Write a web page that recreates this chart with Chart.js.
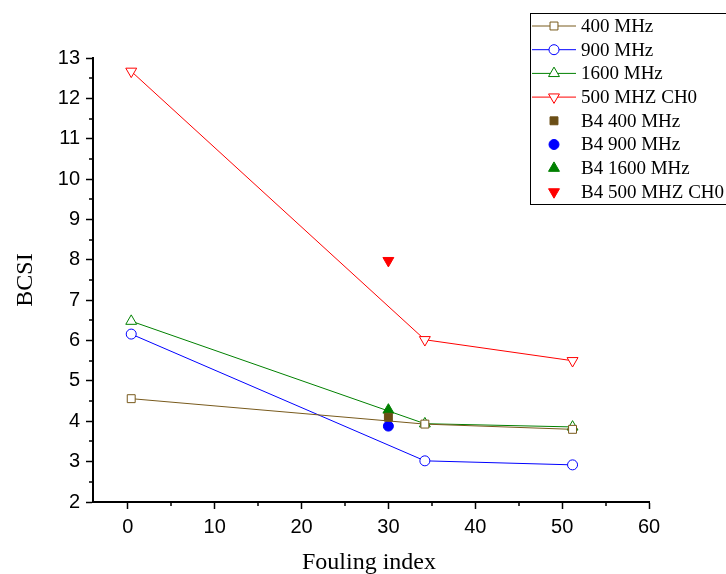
<!DOCTYPE html>
<html>
<head>
<meta charset="utf-8">
<script src="https://cdn.jsdelivr.net/npm/chart.js@4"></script>
<style>
  html, body { margin: 0; padding: 0; background: #fff; }
  canvas { display: block; }
</style>
</head>
<body>
<canvas id="chart" width="726" height="574"></canvas>
<script>
// fouling index of the three measured sections
const fouling = [0.4, 34.2, 51.2];
const mhz400 = [4.56, 3.93, 3.8];
const mhz900 = [6.16, 3.02, 2.92];
const mhz1600 = [6.48, 3.94, 3.86];
const mhz500ch0 = [12.67, 6.02, 5.5];

// B4 single measurements
const b4Fouling = [30];
const b4mhz400 = [4.1];
const b4mhz900 = [3.88];
const b4mhz1600 = [4.28];
const b4mhz500ch0 = [7.98];

const xTicks = [0, 10, 20, 30, 40, 50, 60];
const xMinor = [5, 15, 25, 35, 45, 55];
const yTicks = [2, 3, 4, 5, 6, 7, 8, 9, 10, 11, 12, 13];
const yMinor = [2.5, 3.5, 4.5, 5.5, 6.5, 7.5, 8.5, 9.5, 10.5, 11.5, 12.5];

const BROWN = '#785a1c';
const BROWN_FILL = '#6b4e16';

const pts = (xs, ys) => xs.map((x, i) => ({ x, y: ys[i] }));

const lineSet = (label, ys, color, style, radius, rot) => ({
  label,
  data: pts(fouling, ys),
  showLine: true,
  borderColor: color,
  borderWidth: 1,
  pointStyle: style,
  pointRadius: radius,
  pointRotation: rot || 0,
  pointBorderColor: color,
  pointBackgroundColor: '#fff',
  pointBorderWidth: 1
});

const dotSet = (label, ys, color, style, radius, rot) => ({
  label,
  data: pts(b4Fouling, ys),
  showLine: false,
  borderColor: color,
  pointStyle: style,
  pointRadius: radius,
  pointRotation: rot || 0,
  pointBorderColor: color,
  pointBackgroundColor: color,
  pointBorderWidth: 1
});

const datasets = [
  lineSet('400 MHz', mhz400, BROWN, 'rect', 5.6),
  lineSet('900 MHz', mhz900, '#0000ff', 'circle', 5),
  lineSet('1600 MHz', mhz1600, '#008000', 'triangle', 6.3),
  lineSet('500 MHZ CH0', mhz500ch0, '#ff0000', 'triangle', 6.3, 180),
  dotSet('B4 400 MHz', b4mhz400, BROWN_FILL, 'rect', 5.6),
  dotSet('B4 900 MHz', b4mhz900, '#0000ff', 'circle', 5),
  dotSet('B4 1600 MHz', b4mhz1600, '#008000', 'triangle', 6.3),
  dotSet('B4 500 MHZ CH0', b4mhz500ch0, '#ff0000', 'triangle', 6.3, 180)
];

// minor ticks, axis titles and the boxed legend
const overlay = {
  id: 'overlay',
  afterDraw(chart) {
    const ctx = chart.ctx;
    const xs = chart.scales.x, ys = chart.scales.y;
    const area = chart.chartArea;
    ctx.save();
    ctx.strokeStyle = '#000';
    ctx.lineWidth = 1.5;
    ctx.beginPath();
    xMinor.forEach(v => {
      const px = Math.round(xs.getPixelForValue(v));
      ctx.moveTo(px, area.bottom);
      ctx.lineTo(px, area.bottom + 4);
    });
    yMinor.forEach(v => {
      const py = Math.round(ys.getPixelForValue(v));
      ctx.moveTo(area.left, py);
      ctx.lineTo(area.left - 4, py);
    });
    ctx.stroke();

    ctx.fillStyle = '#000';
    ctx.font = '24px "Liberation Serif"';
    ctx.textAlign = 'center';
    ctx.textBaseline = 'middle';
    ctx.fillText('Fouling index', (area.left + area.right) / 2 - 2, 563);
    ctx.save();
    ctx.translate(26, (area.top + area.bottom) / 2);
    ctx.rotate(-Math.PI / 2);
    ctx.fillText('BCSI', 0, 0);
    ctx.restore();

    // legend
    ctx.fillStyle = '#fff';
    ctx.fillRect(530, 13, 200, 192);
    ctx.strokeStyle = '#000';
    ctx.lineWidth = 1;
    ctx.strokeRect(530.5, 13.5, 200, 191);
    ctx.font = '19px "Liberation Serif"';
    ctx.textAlign = 'left';
    chart.data.datasets.forEach((ds, i) => {
      const cy = 26 + i * 23.7;
      if (ds.showLine) {
        ctx.strokeStyle = ds.borderColor;
        ctx.lineWidth = 1;
        ctx.beginPath();
        ctx.moveTo(532, cy);
        ctx.lineTo(576, cy);
        ctx.stroke();
      }
      ctx.strokeStyle = ds.pointBorderColor;
      ctx.fillStyle = ds.pointBackgroundColor;
      ctx.lineWidth = 1;
      Chart.helpers.drawPoint(ctx, {
        pointStyle: ds.pointStyle,
        radius: ds.pointRadius,
        rotation: ds.pointRotation,
        borderWidth: 1
      }, 554, cy);
      ctx.fillStyle = '#000';
      ctx.fillText(ds.label, 581, cy + 1);
    });
    ctx.restore();
  }
};

new Chart(document.getElementById('chart'), {
  type: 'scatter',
  data: { datasets },
  options: {
    responsive: false,
    devicePixelRatio: 1,
    animation: false,
    layout: { padding: { left: 0, top: 58, right: 77, bottom: 0 } },
    plugins: {
      legend: { display: false },
      tooltip: { enabled: false }
    },
    scales: {
      x: {
        type: 'linear',
        min: -4,
        max: 60,
        afterFit: s => { s.height = 72; },
        afterBuildTicks: s => { s.ticks = xTicks.map(v => ({ value: v })); },
        border: { display: true, color: '#000', width: 2 },
        grid: { drawOnChartArea: false, tickLength: 7, tickColor: '#000', tickWidth: 1.5 },
        ticks: {
          color: '#000',
          padding: 6,
          font: { family: '"Liberation Sans"', size: 20 }
        }
      },
      y: {
        type: 'linear',
        min: 2,
        max: 13,
        afterFit: s => { s.width = 93; },
        afterBuildTicks: s => { s.ticks = yTicks.map(v => ({ value: v })); },
        border: { display: true, color: '#000', width: 2 },
        grid: { drawOnChartArea: false, tickLength: 7, tickColor: '#000', tickWidth: 1.5 },
        ticks: {
          color: '#000',
          padding: 6,
          font: { family: '"Liberation Sans"', size: 20 }
        }
      }
    }
  },
  plugins: [overlay]
});
</script>
</body>
</html>
